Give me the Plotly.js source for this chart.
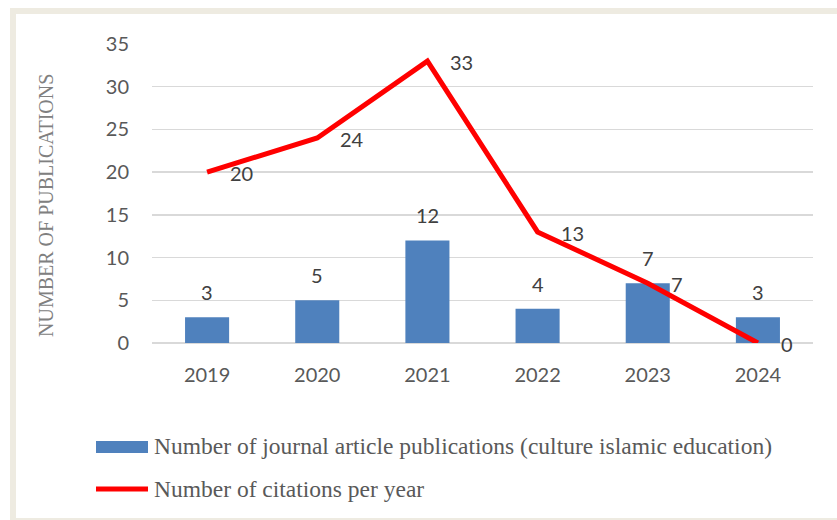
<!DOCTYPE html>
<html>
<head>
<meta charset="utf-8">
<script src="https://cdn.plot.ly/plotly-3.0.1.min.js"></script>
<style>
  html, body { margin: 0; padding: 0; background: #ffffff; }
  #wrap { position: relative; width: 837px; height: 520px; overflow: hidden; }
  #frame { position: absolute; left: 10px; top: 8px; width: 840px; height: 512px; background: #EEEBE1; }
  #inner { position: absolute; left: 16px; top: 14px; width: 840px; height: 504px; background: #ffffff; }
  #chart { position: absolute; left: 0; top: 0; width: 837px; height: 520px; }
</style>
</head>
<body>
<div id="wrap">
  <div id="frame"></div>
  <div id="inner"></div>
  <div id="chart"></div>
</div>
<script>
// ---- data ----
const years = ['2019', '2020', '2021', '2022', '2023', '2024'];
const publications = [3, 5, 12, 4, 7, 3];
const citations = [20, 24, 33, 13, 7, 0];
const barName = 'Number of journal article publications (culture islamic education)';
const lineName = 'Number of citations per year';
const yTitle = 'NUMBER OF PUBLICATIONS';
const yTicks = [0, 5, 10, 15, 20, 25, 30, 35];

// ---- layout helpers (pixel -> paper) ----
const W = 837, H = 520;
const M = { l: 152, r: 24, t: 44, b: 177 };
const PW = W - M.l - M.r, PH = H - M.t - M.b;
const px = x => (x - M.l) / PW;
const py = y => (H - M.b - y) / PH;

const sans = 'Lato, "Open Sans", sans-serif';
const serif = '"Liberation Serif", "DejaVu Serif", serif';
const tickFont = { family: sans, size: 20, color: '#595959' };
const labelFont = { family: sans, size: 20, color: '#404040' };
const legendFont = { family: serif, size: 23.5, color: '#595959' };

const traces = [
  {
    type: 'bar', name: barName, x: years, y: publications,
    marker: { color: '#4F81BD' }, showlegend: false, hoverinfo: 'x+y'
  },
  {
    type: 'scatter', mode: 'lines', name: lineName, x: years, y: citations,
    line: { color: '#FF0000', width: 5 }, showlegend: false, hoverinfo: 'x+y'
  }
];

const annotations = [];
years.forEach((yr, i) => {
  // category index i on the category axis (years look numeric, so use index)
  annotations.push({
    x: i, y: publications[i], xref: 'x', yref: 'y', text: String(publications[i]),
    showarrow: false, yshift: 25, font: labelFont
  });
  annotations.push({
    x: i, y: citations[i], xref: 'x', yref: 'y', text: String(citations[i]),
    showarrow: false, xanchor: 'left', xshift: 21, yshift: -1, font: labelFont
  });
});
// y axis title
annotations.push({ xref: 'paper', yref: 'paper', x: px(46), y: py(205), xanchor: 'center', yanchor: 'middle',
  text: yTitle, textangle: -90, showarrow: false, font: { family: serif, size: 20, color: '#808080' } });
// custom legend text
annotations.push({ xref: 'paper', yref: 'paper', x: px(152), y: py(446), xanchor: 'left', yanchor: 'middle',
  text: barName, showarrow: false, font: legendFont });
annotations.push({ xref: 'paper', yref: 'paper', x: px(152), y: py(489), xanchor: 'left', yanchor: 'middle',
  text: lineName, showarrow: false, font: legendFont });

const shapes = [
  { type: 'rect', xref: 'paper', yref: 'paper', x0: px(96), x1: px(148), y0: py(441), y1: py(453),
    fillcolor: '#4F81BD', line: { width: 0 } },
  { type: 'line', xref: 'paper', yref: 'paper', x0: px(96), x1: px(148), y0: py(489), y1: py(489),
    line: { color: '#FF0000', width: 5 } }
];

const layout = {
  width: W, height: H,
  margin: M,
  paper_bgcolor: 'rgba(0,0,0,0)',
  plot_bgcolor: 'rgba(0,0,0,0)',
  bargap: 0.6,
  showlegend: false,
  xaxis: {
    type: 'category', range: [-0.5, years.length - 0.5], autorange: false,
    tickfont: tickFont, showgrid: false, zeroline: false,
    showline: false, ticks: '', ticklabelstandoff: 18, fixedrange: true
  },
  yaxis: {
    range: [0, 35], autorange: false, tickvals: yTicks, tickfont: tickFont,
    showgrid: true, gridcolor: '#D9D9D9', gridwidth: 1.5,
    zeroline: true, zerolinecolor: '#D9D9D9', zerolinewidth: 1.5,
    showline: false, ticks: '', ticklabelstandoff: 22, fixedrange: true
  },
  annotations: annotations,
  shapes: shapes
};

Plotly.newPlot('chart', traces, layout, { displayModeBar: false, staticPlot: true });
</script>
</body>
</html>
